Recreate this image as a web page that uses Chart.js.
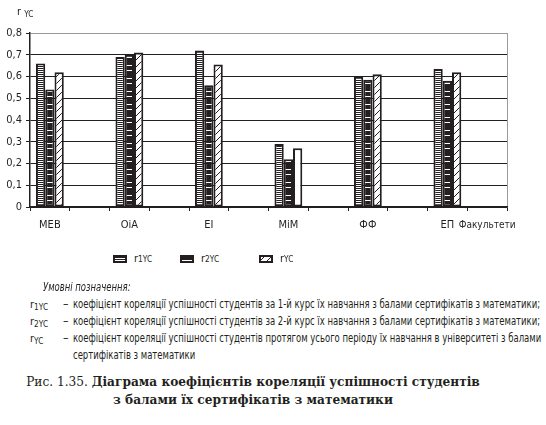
<!DOCTYPE html>
<html>
<head>
<meta charset="utf-8">
<script src="https://cdn.jsdelivr.net/npm/chart.js@4.4.1/dist/chart.umd.min.js"></script>
<style>
  body { margin: 0; background: #fff; }
  #wrap { position: relative; width: 546px; height: 425px; overflow: hidden;
          font-family: 'DejaVu Sans Condensed', 'Liberation Sans', sans-serif; color: #231f20; }
  #box { position: absolute; left: 0; top: 0; width: 546px; height: 240px; }
  .abs { position: absolute; white-space: nowrap; }
  sub { font-size: 75%; vertical-align: -2px; line-height: 0; }
  #ytitle { left: 17px; top: 5px; font-size: 11px; }
  .leg { top: 252px; font-size: 11px; display: flex; align-items: center; }
  .leg canvas { margin-right: 7px; }
  .sx { display: inline-block; transform-origin: 0 0; white-space: nowrap; }
  #notes { left: 43px; top: 280px; font-size: 12px; font-style: italic; }
  .note { position: absolute; left: 30px; display: flex; font-size: 12px; line-height: 17px; white-space: nowrap; }
  .note .sym { width: 33px; flex: none; font-size: 11px; }
  .note .dash { width: 10px; flex: none; }
  #caption { position: absolute; left: 0; width: 506px; top: 372px; text-align: center;
             font-family: 'DejaVu Serif Condensed', 'Liberation Serif', serif; font-size: 13.5px; line-height: 18px; }
</style>
</head>
<body>
<div id="wrap">
  <div id="box"><canvas id="chart"></canvas></div>
  <div class="abs" id="ytitle">r <sub>YC</sub></div>
  <div class="abs leg" style="left:113px"><canvas id="lg1" width="14" height="8"></canvas>r<sub>1YC</sub></div>
  <div class="abs leg" style="left:180px"><canvas id="lg2" width="14" height="8"></canvas>r<sub>2YC</sub></div>
  <div class="abs leg" style="left:259px"><canvas id="lg3" width="14" height="8"></canvas>r<sub>YC</sub></div>
  <div class="abs" id="notes"><span class="sx">Умовні позначення:</span></div>
  <div class="note" style="top:296px"><span class="sym">r<sub>1YC</sub></span><span class="dash">–</span><span class="sx" id="ref">коефіцієнт кореляції успішності студентів за 1-й курс їх навчання з балами сертифікатів з математики;</span></div>
  <div class="note" style="top:313px"><span class="sym">r<sub>2YC</sub></span><span class="dash">–</span><span class="sx">коефіцієнт кореляції успішності студентів за 2-й курс їх навчання з балами сертифікатів з математики;</span></div>
  <div class="note" style="top:330px"><span class="sym">r<sub>YC</sub></span><span class="dash">–</span><span class="sx">коефіцієнт кореляції успішності студентів протягом усього періоду їх навчання в університеті з балами<br>сертифікатів з математики</span></div>
  <div id="caption">Рис. 1.35. <b>Діаграма коефіцієнтів кореляції успішності студентів<br>з балами їх сертифікатів з математики</b></div>
</div>
<script>
// faculties, every second slot is an empty gap as in the original
const categories = ['МЕВ', '', 'ОіА', '', 'ЕІ', '', 'МіМ', '', 'ФФ', '', 'ЕП', 'Факультети'];
const r1yc = [0.66, null, 0.69, null, 0.72, null, 0.29, null, 0.60, null, 0.635, null];
const r2yc = [0.54, null, 0.70, null, 0.56, null, 0.22, null, 0.585, null, 0.58, null];
const ryc  = [0.62, null, 0.71, null, 0.655, null, 0.27, null, 0.61, null, 0.62, null];
const yMax = 0.8;
const yStep = 0.1;

const ink = '#231f20';

// squeeze the note text to the width of the condensed original
const k = 467 / document.getElementById('ref').getBoundingClientRect().width;
document.querySelectorAll('.sx').forEach(el => { el.style.transform = 'scaleX(' + k + ')'; });

function makePattern(w, h, draw) {
  const c = document.createElement('canvas');
  c.width = w; c.height = h;
  const g = c.getContext('2d');
  draw(g, w, h);
  return g.createPattern(c, 'repeat');
}

// horizontal stripes
const drawStripes = (g, w, h) => {
  g.fillStyle = '#fff'; g.fillRect(0, 0, w, h);
  g.fillStyle = ink; g.fillRect(0, 0, w, 1);
};
// black with white dashes
const drawDashes = (g, w, h) => {
  g.fillStyle = ink; g.fillRect(0, 0, w, h);
  g.fillStyle = '#fff'; g.fillRect(0, 0, w, 1); g.fillRect(0, 5, w, 1);
};
// diagonal hatch
const drawHatch = (g, w, h) => {
  g.fillStyle = '#fff'; g.fillRect(0, 0, w, h);
  g.strokeStyle = ink; g.lineWidth = 1;
  g.beginPath();
  g.moveTo(0, h); g.lineTo(w, 0);
  g.moveTo(-1, 1); g.lineTo(1, -1);
  g.moveTo(w - 1, h + 1); g.lineTo(w + 1, h - 1);
  g.stroke();
};

const stripes = makePattern(4, 2, drawStripes);
const dashes = makePattern(4, 13, drawDashes);
const hatch = makePattern(7, 7, drawHatch);

[['lg1', drawStripes, 2], ['lg2', drawDashes, 13], ['lg3', drawHatch, 7]].forEach(([id, fn, h]) => {
  const c = document.getElementById(id);
  const g = c.getContext('2d');
  const p = makePattern(h === 2 ? 4 : 7, h, fn);
  g.fillStyle = p; g.fillRect(0, 0, c.width, c.height);
  g.strokeStyle = ink; g.lineWidth = 2; g.strokeRect(1, 1, c.width - 2, c.height - 2);
});

const fam = "'DejaVu Sans Condensed', 'Liberation Sans', sans-serif";

new Chart(document.getElementById('chart'), {
  type: 'bar',
  data: {
    labels: categories,
    datasets: [
      { label: 'r1YC', data: r1yc, backgroundColor: stripes },
      { label: 'r2YC', data: r2yc, backgroundColor: dashes },
      { label: 'rYC', data: ryc, backgroundColor: c => (c.dataIndex === 6 ? '#fff' : hatch) }
    ]
  },
  options: {
    responsive: true,
    maintainAspectRatio: false,
    animation: false,
    datasets: {
      bar: { borderColor: ink, borderWidth: 2, borderSkipped: false, categoryPercentage: 0.7, barPercentage: 1 }
    },
    layout: { padding: { top: 33, right: 39, left: 0, bottom: 0 } },
    plugins: { legend: { display: false }, tooltip: { enabled: false } },
    scales: {
      x: {
        afterFit: s => { s.height = 33; },
        grid: {
          offset: true,
          color: c => (c.index === undefined ? '#9a9a9a' : 'rgba(0,0,0,0)'),
          tickColor: ink,
          tickLength: 4,
          lineWidth: 1
        },
        border: { color: ink, width: 1.5 },
        ticks: {
          color: ink,
          font: c => ({ family: fam, size: c.index === 11 ? 10 : 11 }),
          padding: 8,
          maxRotation: 0,
          autoSkip: false
        }
      },
      y: {
        min: 0,
        max: yMax,
        afterFit: s => { s.width = 30; },
        grid: {
          color: c => (c.tick && c.tick.value > yMax - yStep / 2 ? '#9a9a9a' : ink),
          tickColor: ink,
          tickLength: 4,
          lineWidth: 1
        },
        border: { color: ink, width: 1.5 },
        ticks: {
          stepSize: yStep,
          color: ink,
          font: { family: fam, size: 11 },
          padding: 4,
          callback: v => (v === 0 ? '0' : v.toFixed(1).replace('.', ','))
        }
      }
    }
  }
});
</script>
</body>
</html>
